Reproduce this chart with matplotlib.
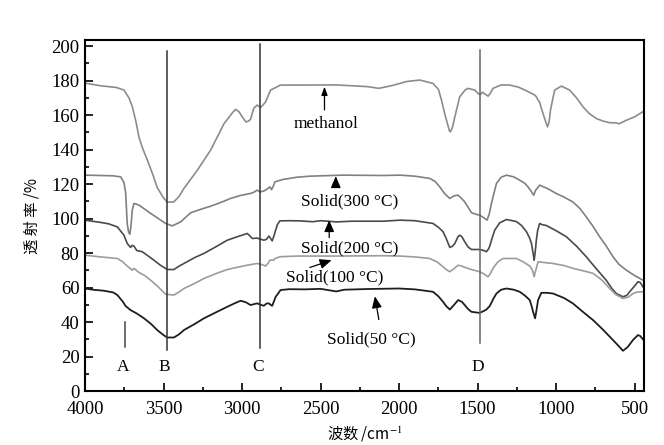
import numpy as np
import matplotlib
matplotlib.use('Agg')
import matplotlib.pyplot as plt
from matplotlib.ticker import MultipleLocator

wn_methanol = [4000, 3900, 3800, 3752, 3720, 3699, 3675, 3656, 3630, 3603, 3570, 3540, 3500, 3476,
               3434, 3400, 3370, 3285, 3200, 3115, 3060, 3041, 3020, 2999, 2975, 2960, 2946, 2935,
               2925, 2904, 2890, 2882, 2865, 2850, 2830, 2818, 2755, 2600, 2400, 2200, 2130, 2050,
               1950, 1868, 1785, 1750, 1730, 1710, 1698, 1680, 1673, 1660, 1645, 1614, 1580, 1561,
               1518, 1493, 1480, 1469, 1450, 1433, 1420, 1402, 1350, 1295, 1240, 1189, 1136, 1125,
               1115, 1105, 1094, 1073, 1055, 1045, 1036, 1020, 1009, 967, 914, 870, 829, 790, 744,
               700, 659, 620, 600, 553, 500, 447]
t_methanol = [178.5, 177, 176, 174.5, 170, 165, 156, 147, 140, 134, 126, 118, 112, 109.5,
              109.7, 113, 117.5, 128, 139.7, 155, 161.5, 163.3, 162, 159, 156, 156.5, 157.5, 161,
              164, 165.8, 165, 164.4, 166, 167.7, 172, 174.5, 177.4, 177.4, 177.5, 176.5, 175.5, 177,
              179.5, 180.3, 178.4, 175, 168.7, 161, 157, 151, 150.3, 153, 159, 170.6, 174.5, 175.5,
              174.5, 172.2, 172, 173.3, 172, 171, 172.5, 175.5, 177.5, 177.4, 176.2, 174.1, 171.6, 170.5,
              168.7, 167.5, 163.9, 158, 153.2, 156, 162.9, 170, 174.5, 176.8, 174.5, 170, 164.8, 161, 158,
              156.5, 155.6, 155.5, 155, 157, 159, 162]

wn_300 = [4000, 3900, 3820, 3773, 3752, 3741, 3731, 3722, 3714, 3706, 3699, 3688, 3670, 3656, 3620,
          3582, 3540, 3487, 3444, 3391, 3327, 3260, 3200, 3140, 3073, 3010, 2946, 2925, 2904, 2886,
          2861, 2835, 2823, 2812, 2800, 2791, 2740, 2650, 2568, 2358, 2100, 1995, 1900, 1805, 1770,
          1741, 1710, 1677, 1650, 1624, 1600, 1582, 1560, 1539, 1510, 1486, 1460, 1440, 1425, 1412,
          1395, 1380, 1350, 1316, 1270, 1232, 1200, 1179, 1160, 1143, 1130, 1105, 1050, 1000, 950,
          894, 850, 808, 765, 723, 680, 638, 600, 553, 500, 447]
t_300 = [125.2, 125, 124.8, 124.2, 121, 115, 97, 92, 91, 97, 105, 108.8, 108.3, 107.8, 105.5,
         103, 100.5, 97.2, 95.8, 98.1, 103.4, 105.5, 107.2, 109.2, 111.7, 113.4, 114.6, 115.3, 116.5, 115.5,
         116, 117.5, 118.4, 116.8, 119, 121.3, 122.7, 124, 124.6, 125.2, 125, 125.2, 124.6, 123.3, 121.5,
         118.4, 114.5, 111.7, 113.2, 113.6, 111.5, 109.7, 106.5, 103.4, 102.5, 102, 100.5, 99.1, 103, 108.8,
         115, 120.4, 124, 125.2, 124.2, 122.3, 120.5, 118.4, 116, 113.6, 116.5, 119.4, 117.2, 114.6, 112.5,
         109.7, 106, 101, 95.5, 89.5, 84, 77.9, 73.5, 70.1, 67, 64.3]

wn_200 = [4000, 3900, 3850, 3794, 3752, 3731, 3710, 3700, 3688, 3670, 3635, 3600, 3561, 3520, 3476,
          3434, 3400, 3370, 3300, 3243, 3170, 3094, 3030, 2967, 2950, 2935, 2920, 2904, 2880, 2861,
          2844, 2829, 2818, 2808, 2797, 2786, 2775, 2759, 2700, 2632, 2550, 2500, 2398, 2300, 2100,
          1995, 1900, 1784, 1750, 1720, 1700, 1677, 1660, 1645, 1625, 1614, 1600, 1582, 1560, 1539,
          1486, 1460, 1444, 1430, 1423, 1405, 1391, 1360, 1316, 1253, 1220, 1189, 1170, 1157, 1145,
          1140, 1134, 1126, 1118, 1105, 1090, 1062, 1000, 935, 870, 808, 745, 681, 645, 617, 575,
          550, 532, 500, 479, 465, 447]
t_200 = [99.1, 97.8, 97, 95.2, 90.4, 85.6, 83.3, 84.5, 84, 81.5, 80.8, 78.5, 75.9, 73, 70.5,
         70.5, 72.5, 74, 77.5, 79.8, 83.5, 87.5, 89.5, 91.4, 90, 88.5, 88.6, 88.7, 88, 87.5,
         88, 89.9, 88.5, 87.1, 90, 93.3, 96.5, 98.7, 98.8, 98.7, 98.2, 98.8, 98.1, 98.5, 98.5,
         99.1, 98.8, 97.2, 95, 92.4, 88.5, 83.3, 84, 85.6, 89.5, 90.4, 89.5, 86.6, 83.5, 82.1,
         82.1, 81.5, 80.8, 82.5, 84, 89.5, 93.3, 97.5, 99.5, 98.3, 96, 92.4, 89, 85.6, 79,
         75.9, 80, 87.5, 93, 97.2, 96.5, 96, 93, 89.5, 84, 77.9, 71, 64.3, 59.5, 56.6, 54.7,
         55.5, 57.6, 61, 63.4, 63, 60.5]

wn_100 = [4000, 3900, 3794, 3760, 3731, 3710, 3699, 3688, 3660, 3620, 3582, 3540, 3487, 3434, 3400,
          3370, 3300, 3243, 3170, 3094, 3030, 2967, 2904, 2880, 2862, 2850, 2835, 2823, 2797, 2791,
          2759, 2650, 2400, 2100, 1995, 1900, 1805, 1760, 1720, 1700, 1677, 1650, 1624, 1600, 1582,
          1540, 1486, 1460, 1433, 1420, 1402, 1370, 1338, 1253, 1210, 1168, 1150, 1140, 1130, 1115,
          1070, 1020, 950, 894, 830, 765, 710, 659, 620, 575, 540, 511, 480, 447]
t_100 = [78.8, 77.8, 76.9, 75, 72.5, 71, 70.1, 71.2, 69, 67, 64.3, 61, 56.2, 55.7, 57.5,
         59.5, 62.5, 65.3, 68, 70.5, 71.8, 73, 74, 73.5, 73, 72.5, 74, 75.9, 76, 76.8,
         77.9, 78.3, 78.3, 78.5, 78.3, 77.8, 76.9, 75, 72.1, 70.5, 69.2, 71, 73, 72.5, 71.8,
         70.5, 69.2, 68, 66.3, 68, 71.2, 75, 76.9, 76.9, 75, 72.5, 70, 66.3, 70, 75,
         74.5, 74, 72.8, 71.2, 69.8, 68.3, 64.5, 59.5, 56, 53.7, 54.5, 56.6, 57.5, 57.6]

wn_50 = [4000, 3950, 3879, 3820, 3794, 3760, 3741, 3710, 3670, 3624, 3580, 3540, 3500, 3476, 3434,
         3400, 3370, 3300, 3243, 3170, 3094, 3050, 3009, 2975, 2946, 2925, 2904, 2880, 2861, 2844,
         2829, 2818, 2808, 2797, 2786, 2770, 2755, 2700, 2600, 2500, 2400, 2350, 2200, 2000, 1900,
         1784, 1750, 1720, 1700, 1677, 1650, 1624, 1600, 1582, 1560, 1539, 1500, 1486, 1460, 1444,
         1423, 1400, 1380, 1350, 1316, 1270, 1232, 1200, 1168, 1155, 1147, 1134, 1125, 1115, 1094,
         1060, 1020, 950, 894, 830, 765, 700, 638, 600, 575, 545, 511, 479, 465, 447]
t_50 = [59.5, 58.8, 58.2, 57.2, 55.7, 52, 49.3, 47, 45, 42.2, 39, 35.4, 32.5, 31.1, 31.1,
        33, 35.4, 39, 42.2, 45.5, 48.9, 50.8, 52.4, 51.5, 49.9, 50.4, 50.9, 50, 49.5, 50.8,
        50.9, 50, 49.5, 52, 54.7, 56.6, 58.6, 59.1, 59, 59.3, 57.8, 58.8, 59.2, 59.5, 59,
        57.6, 55, 51.8, 49.3, 47.3, 50, 52.8, 51.8, 49.9, 47.5, 46, 45.5, 45.4, 46.5, 47.3,
        49.3, 53.5, 56.6, 58.8, 59.5, 58.8, 57.6, 55.5, 52.8, 49, 46, 42.2, 47, 52.8, 57,
        57, 56.6, 54, 50.9, 46, 41.2, 35.5, 29.6, 26, 23.4, 25.5, 29.6, 32.5, 32, 30]

# linhas de referência A-D
ref_letras = ['A', 'B', 'C', 'D']
ref_wn = [3745, 3480, 2885, 1485]
ref_base = [25.5, 24, 25, 28]
ref_topo = [40, 197, 201, 198]
ref_cor = ['#444444', '#333333', '#333333', '#666666']

# rótulos das curvas: texto, posição do texto, ponta da seta, base da seta
rotulos = ['methanol', 'Solid(300 °C)', 'Solid(200 °C)', 'Solid(100 °C)', 'Solid(50 °C)']
rot_xy = [(2468, 154.8), (2314, 109.7), (2314, 83), (2409, 65.7), (2175, 30)]
seta_ponta = [(2475, 176.5), (2403, 124.6), (2445, 99.1), (2430, 75.9), (2154, 55)]
seta_base = [(2475, 163), (2403, 118), (2445, 89), (2568, 71.7), (2129, 41.5)]

plt.rcParams['font.family'] = ['Liberation Serif', 'Noto Sans CJK SC', 'DejaVu Sans']
plt.rcParams['mathtext.fontset'] = 'stix'

fig = plt.figure(figsize=(6.64, 4.45), dpi=100)
ax = fig.add_axes([0.128, 0.121, 0.842, 0.789])

ax.plot(wn_methanol, t_methanol, color='#8c8c8c', lw=1.2)
ax.plot(wn_300, t_300, color='#808080', lw=1.2)
ax.plot(wn_200, t_200, color='#4a4a4a', lw=1.2)
ax.plot(wn_100, t_100, color='#9c9c9c', lw=1.2)
ax.plot(wn_50, t_50, color='#1e1e1e', lw=1.3)

for letra, w, y0, y1, c in zip(ref_letras, ref_wn, ref_base, ref_topo, ref_cor):
    ax.plot([w, w], [y0, y1], color=c, lw=1.1)
    ax.text(w + 15, 14, letra, ha='center', va='center', fontsize=12.5)

for i, txt in enumerate(rotulos):
    ax.text(rot_xy[i][0], rot_xy[i][1], txt, ha='center', va='center', fontsize=12.5)
    estilo = '-|>,head_length=0.5,head_width=0.18' if i == 0 else '-|>,head_length=0.7,head_width=0.3'
    ax.annotate('', xy=seta_ponta[i], xytext=seta_base[i],
                arrowprops=dict(arrowstyle=estilo, color='black', lw=0.9,
                                shrinkA=0, shrinkB=0))

ax.set_xlim(4000, 440)
ax.set_ylim(0, 203.5)
ax.xaxis.set_major_locator(MultipleLocator(500))
ax.xaxis.set_minor_locator(MultipleLocator(250))
ax.yaxis.set_major_locator(MultipleLocator(20))
ax.yaxis.set_minor_locator(MultipleLocator(10))
ax.tick_params(which='both', direction='in', width=1.2, labelsize=13.5)
ax.tick_params(which='major', length=6)
ax.tick_params(which='minor', length=3)
ax.tick_params(axis='x', pad=7)
ax.tick_params(axis='y', pad=4)
for s in ax.spines.values():
    s.set_linewidth(1.5)

ax.set_ylabel('透 射 率 /%', fontsize=11, family=['Noto Sans CJK SC', 'DejaVu Sans'], labelpad=8)
ax.set_xlabel('波数 /cm$^{-1}$', fontsize=11, family=['Noto Sans CJK SC', 'DejaVu Sans'], labelpad=5)

fig.savefig('out.png', dpi=100)
